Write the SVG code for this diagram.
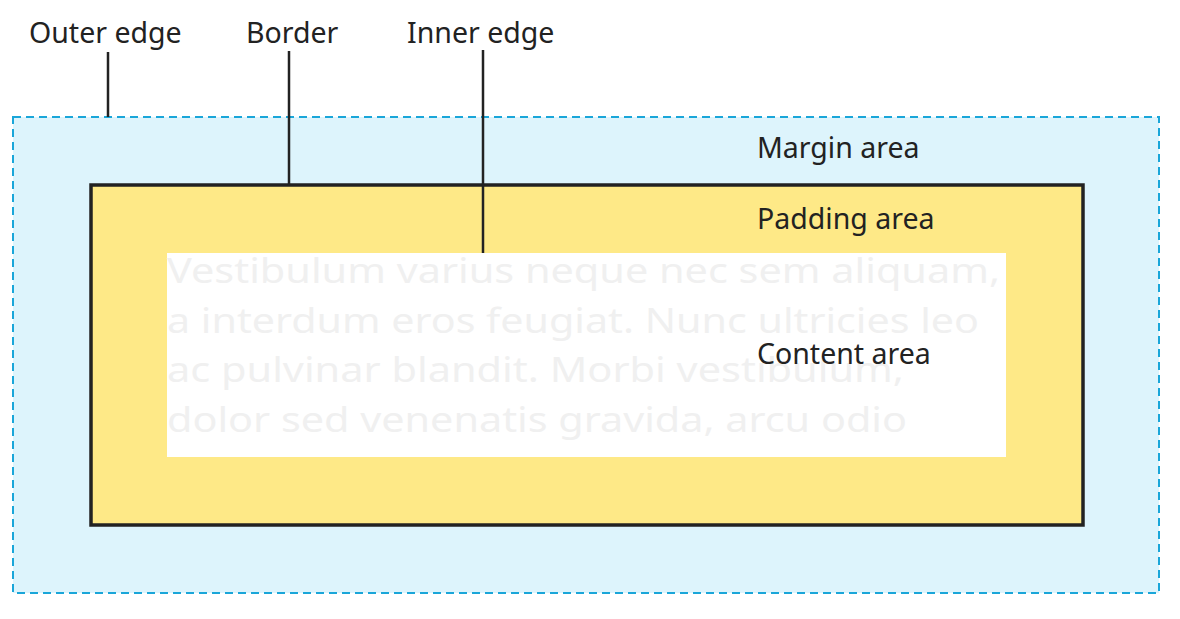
<svg xmlns="http://www.w3.org/2000/svg" width="1180" height="619" viewBox="0 0 1180 619">
<style>
.lbl{font-family:"Noto Sans","Open Sans",sans-serif;font-size:28.5px;fill:#222}
.bg{font-family:"Noto Sans","Open Sans",sans-serif;font-size:35px;fill:#f0f0f0}
.ln{stroke:#222;stroke-width:2.5;fill:none}
</style>
<rect width="1180" height="619" fill="#fff"/>
<g id="margin"><rect x="13" y="117" width="1146" height="476" fill="#ddf4fc" stroke="#1aa6d9" stroke-width="2" stroke-dasharray="8,5"/>
<text class="lbl" x="757" y="158">Margin area</text></g>
<g id="border"><rect x="91" y="185" width="992" height="340" fill="#fee987" stroke="#222" stroke-width="3.5"/>
<text class="lbl" x="757" y="229">Padding area</text></g>
<g id="content"><rect x="167" y="253" width="839" height="204" fill="#fff"/>
<text class="bg" x="167" y="283" textLength="833" lengthAdjust="spacingAndGlyphs">Vestibulum varius neque nec sem aliquam,</text>
<text class="bg" x="167" y="333" textLength="812" lengthAdjust="spacingAndGlyphs">a interdum eros feugiat. Nunc ultricies leo</text>
<text class="bg" x="167" y="382" textLength="737" lengthAdjust="spacingAndGlyphs">ac pulvinar blandit. Morbi vestibulum,</text>
<text class="bg" x="167" y="432" textLength="740" lengthAdjust="spacingAndGlyphs">dolor sed venenatis gravida, arcu odio</text>
<text class="lbl" x="757" y="364">Content area</text></g>
<g id="labels">
<text class="lbl" x="29" y="43">Outer edge</text>
<text class="lbl" x="246" y="43">Border</text>
<text class="lbl" x="407" y="43">Inner edge</text>
</g>
<g id="connectors">
<line class="ln" x1="108" y1="52" x2="108" y2="117"/>
<line class="ln" x1="289" y1="51" x2="289" y2="185"/>
<line class="ln" x1="483" y1="50" x2="483" y2="253"/>
</g>
</svg>
